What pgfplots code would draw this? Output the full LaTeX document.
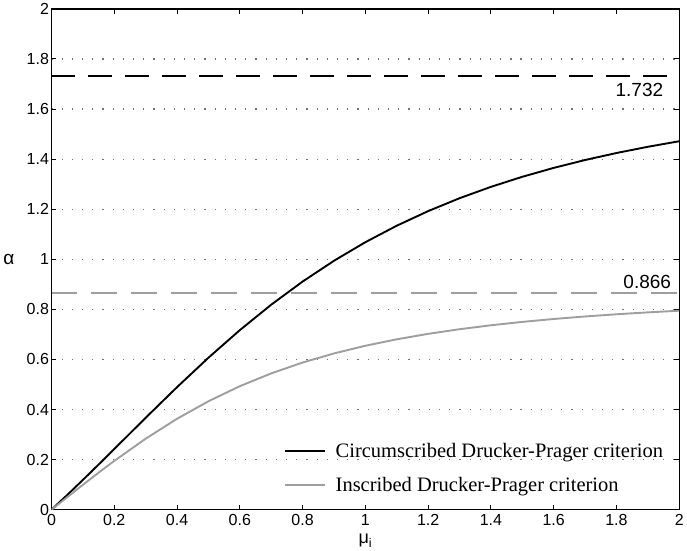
\documentclass[border=0pt]{standalone}
\usepackage{fontspec}
\setmainfont{Liberation Sans}
\newfontfamily\legendfont{Liberation Serif}
\usepackage{pgfplots}
\pgfplotsset{compat=1.18}
\begin{document}
\begin{tikzpicture}
\begin{axis}[
  scale only axis,
  width=628pt, height=501pt,
  xmin=0, xmax=2, ymin=0, ymax=2,
  xtick={0,0.2,...,2}, ytick={0,0.2,...,2},
  xticklabels={0,0.2,0.4,0.6,0.8,1,1.2,1.4,1.6,1.8,2},
  yticklabels={0,0.2,0.4,0.6,0.8,1,1.2,1.4,1.6,1.8,2},
  tick align=inside, major tick length=5pt,
  tick style={black, line width=1pt},
  axis line style={line width=1.2pt},
  ticklabel style={font=\fontsize{16}{18}\selectfont},
  xticklabel style={yshift=-1pt},
  yticklabel style={xshift=1pt},
  ymajorgrids, major grid style={black!55, line width=1.2pt, dash pattern=on 1.2pt off 9pt},
  xlabel={μ\textsubscript{i}}, ylabel={α},
  xlabel style={font=\fontsize{18}{20}\selectfont, yshift=-2pt},
  ylabel style={font=\fontsize{19}{21}\selectfont, rotate=-90, at={(rel axis cs:-0.068,0.5)}, anchor=center},
  legend style={draw=none, fill=none, font=\legendfont\fontsize{20.5}{24}\selectfont,
    at={(rel axis cs:0.365,0.025)}, anchor=south west, row sep=14pt},
  legend cell align=left,
  legend image code/.code={\draw[#1] (0pt,0pt) -- (40pt,0pt); \path (48pt,0pt);},
]
\addplot[black, line width=1.9pt] coordinates {
(0,0) (0.05,0.05864) (0.1,0.11884) (0.15,0.18020) (0.2,0.24229) (0.3,0.36695)
(0.4,0.48944) (0.5,0.60686) (0.6,0.71707) (0.7,0.81867) (0.8,0.91104)
(0.9,0.99414) (1.0,1.06830) (1.1,1.13414) (1.2,1.19240) (1.3,1.24389)
(1.4,1.28932) (1.5,1.32950) (1.6,1.36502) (1.7,1.39650) (1.8,1.42445)
(1.9,1.44932) (2.0,1.47151)};
\addlegendentry{Circumscribed Drucker-Prager criterion}
\addplot[black!38, line width=1.9pt] coordinates {
(0,0) (0.05,0.04992) (0.1,0.09934) (0.15,0.14780) (0.2,0.19487) (0.3,0.28348)
(0.4,0.36314) (0.5,0.43301) (0.6,0.49320) (0.7,0.54440) (0.8,0.58764)
(0.9,0.62404) (1.0,0.65465) (1.1,0.68045) (1.2,0.70225) (1.3,0.72074)
(1.4,0.73650) (1.5,0.75000) (1.6,0.76162) (1.7,0.77167) (1.8,0.78040)
(1.9,0.78804) (2.0,0.79472)};
\addlegendentry{Inscribed Drucker-Prager criterion}
\addplot[black, line width=2.6pt, dash pattern=on 24pt off 13pt, forget plot] coordinates {(0,1.732) (2,1.732)};
\addplot[black!38, line width=2pt, dash pattern=on 26pt off 14pt, forget plot] coordinates {(0,0.866) (2,0.866)};
\node[anchor=east, font=\fontsize{19}{21}\selectfont] at (axis cs:1.96,1.675) {1.732};
\node[anchor=east, font=\fontsize{19}{21}\selectfont] at (axis cs:1.985,0.91) {0.866};
\end{axis}
\end{tikzpicture}
\end{document}
